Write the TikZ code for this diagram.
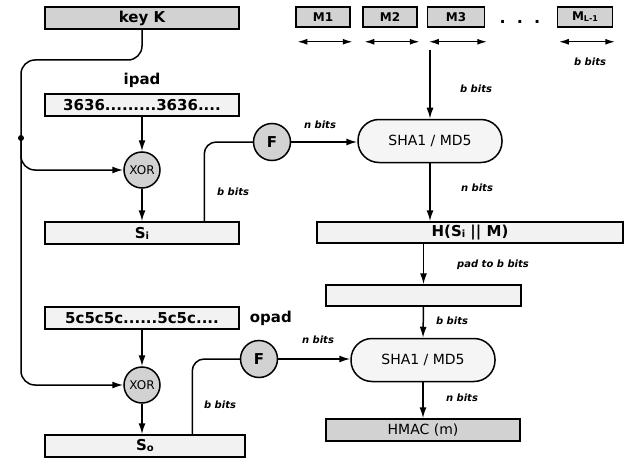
\documentclass[tikz,border=0pt]{standalone}
\usepackage{fontspec}
\setmainfont{DejaVu Sans}
\usetikzlibrary{positioning, arrows.meta, calc}

\begin{document}
\begin{tikzpicture}[
        x=1pt, y=-1pt,
        line width=1.5pt,
        bar/.style={draw, fill=gray!10, minimum width=194pt, minimum height=22pt, inner sep=0pt, font=\bfseries\fontsize{15}{17}\selectfont},
        darkbar/.style={bar, fill=gray!35},
        msg/.style={draw, fill=gray!35, minimum width=54pt, minimum height=20pt, inner sep=0pt, font=\bfseries\fontsize{12}{14}\selectfont},
        xorc/.style={draw, circle, fill=gray!35, minimum size=36pt, inner sep=0pt, font=\fontsize{12}{14}\selectfont},
        fc/.style={draw, circle, fill=gray!35, minimum size=37pt, inner sep=0pt, font=\bfseries\fontsize{15}{17}\selectfont},
        hash/.style={draw, fill=gray!8, rounded corners=21pt, minimum width=144pt, minimum height=43pt, font=\fontsize{14}{16}\selectfont},
        bits/.style={font=\bfseries\itshape\fontsize{10}{12}\selectfont},
        arrow/.style={-{Latex[length=11pt, width=7pt]}},
        span/.style={{Latex[length=10pt, width=6pt]}-{Latex[length=10pt, width=6pt]}}
    ]

    \useasboundingbox (0,0) rectangle (627,460);

    % inner key
    \node[darkbar] (key) at (142,18) {key K};
    \node[bar] (ipad) at (142,105) {3636.........3636....};
    \node[font=\bfseries\fontsize{15}{17}\selectfont, above=2pt of ipad] (ipadlbl) {ipad};
    \node[xorc] (xor1) at (142,170) {XOR};
    \node[bar] (si) at (142,233) {S\raisebox{-1pt}{\fontsize{10}{12}\selectfont i}};

    % outer key
    \node[bar] (opad) at (142,318) {5c5c5c......5c5c....};
    \node[font=\bfseries\fontsize{15}{17}\selectfont, right=6pt of opad] (opadlbl) {opad};
    \node[xorc] (xor2) at (142,385) {XOR};
    \node[bar, minimum width=200pt] (so) at (145,446) {S\raisebox{-1pt}{\fontsize{10}{12}\selectfont o}};

    \node[fc] (f1) at (272,142) {F};
    \node[fc] (f2) at (259,359) {F};

    % message blocks
    \node[msg] (m1) at (323,17) {M1};
    \node[msg] (m2) at (390,17) {M2};
    \node[msg, minimum width=57pt] (m3) at (456,17) {M3};
    \node[font=\bfseries\fontsize{16}{18}\selectfont] (dots) at (520,22) {.\ \ .\ \ .};
    \node[msg, minimum width=55pt] (ml) at (585,17) {M\raisebox{-1pt}{\fontsize{8}{10}\selectfont L-1}};
    \foreach \m in {m1,m2,m3,ml}
        \draw[span] ($(\m.south west)+(2,14)$) -- ($(\m.south east)+(2,14)$);
    \coordinate (msgin) at (430,50);

    \node[hash] (sha1) at (430,141) {SHA1 / MD5};
    \node[bar, minimum width=306pt, minimum height=21pt] (hbox) at (470,232.5) {H(S\raisebox{-1pt}{\fontsize{10}{12}\selectfont i} || M)};
    \node[bar, minimum width=195pt, minimum height=21pt] (pad) at (423.5,295.5) {};
    \node[hash] (sha2) at (423,360) {SHA1 / MD5};
    \node[darkbar, minimum height=22pt, font=\fontsize{14}{16}\selectfont] (hmac) at (423,430) {HMAC (m)};

    % key paths
    \coordinate (split) at (21,138);
    \draw[arrow, rounded corners=14pt] (key.south) |- (21,60) |- (xor2.west);
    \fill (split) circle (3pt);
    \draw[arrow, rounded corners=14pt] (split) |- (xor1.west);

    \draw[arrow] (ipad) -- (xor1);
    \draw[arrow] (xor1) -- (si);
    \draw[arrow] (opad) -- (xor2);
    \draw[arrow] (xor2) -- (xor2 |- so.north);

    \draw[rounded corners=12pt] ($(si.north west)+(160,0)$) |- (f1.west);
    \draw[arrow] (f1) -- (f1 -| sha1.west);
    \draw[rounded corners=12pt] ($(so.north west)+(148,0)$) |- (f2.west);
    \draw[arrow] (f2) -- (f2 -| sha2.west);

    \draw[arrow] (msgin) -- (sha1.north);
    \draw[arrow] (sha1.south) -- (sha1.south |- hbox.north);
    \draw[arrow] (pad.north |- hbox.south) -- (pad.north);
    \draw[arrow] (pad.south) -- (sha2.north);
    \draw[arrow] (sha2.south) -- (hmac.north);

    % bit labels
    \node[bits] at (590,62) {b bits};
    \node[bits] at (476,89) {b bits};
    \node[bits] at (320,125) {n bits};
    \node[bits] at (233,192) {b bits};
    \node[bits] at (477,188) {n bits};
    \node[bits] at (493,265) {pad to b bits};
    \node[bits] at (452,321) {b bits};
    \node[bits] at (318,340) {n bits};
    \node[bits] at (220,405) {b bits};
    \node[bits] at (462,398) {n bits};

\end{tikzpicture}
\end{document}
